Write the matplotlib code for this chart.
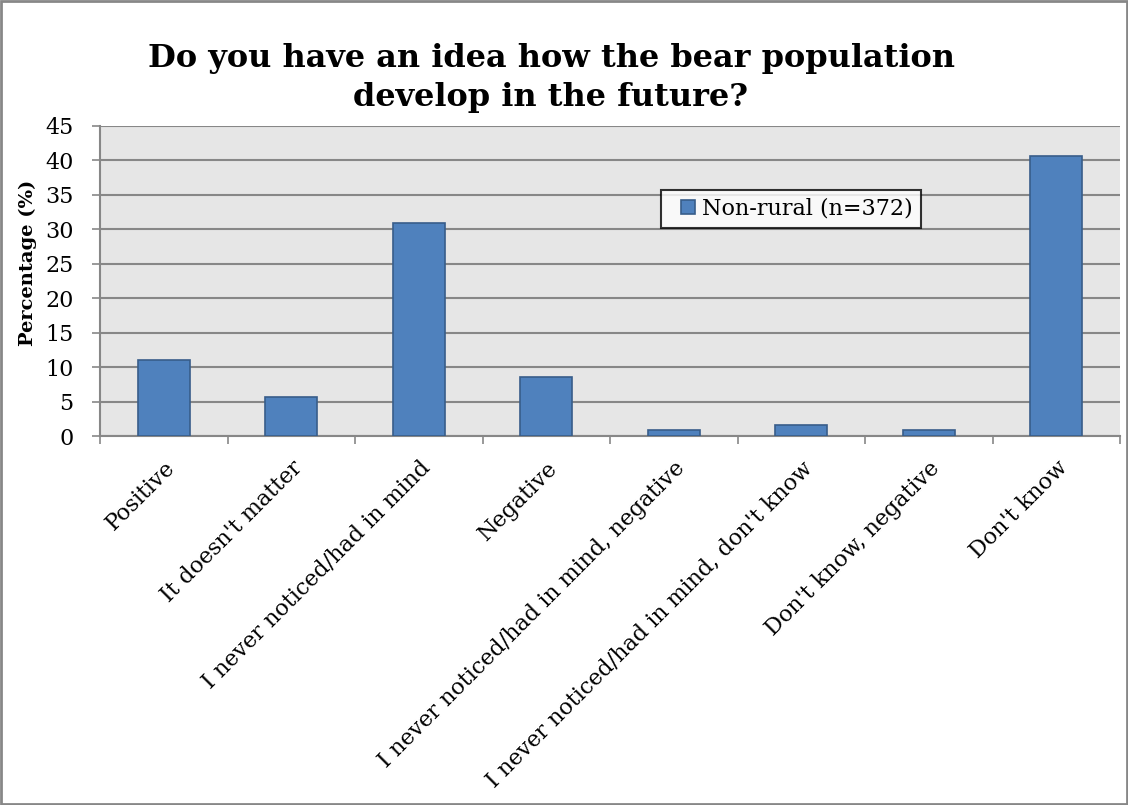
import numpy as np
import matplotlib.pyplot as plt
from matplotlib.patches import Rectangle
from matplotlib.legend_handler import HandlerPatch

# Datos de la encuesta (porcentajes, n=372)
categorias = ['Positive', "It doesn't matter", 'I never noticed/had in mind', 'Negative',
              'I never noticed/had in mind, negative', "I never noticed/had in mind, don't know",
              "Don't know, negative", "Don't know"]
porcentajes = [11.0, 5.6, 30.9, 8.6, 0.8, 1.6, 0.8, 40.6]
serie = 'Non-rural (n=372)'
yticks = np.arange(0, 50, 5)

plt.rcParams['font.family'] = ['DejaVu Serif']

fig = plt.figure(figsize=(11.28, 8.05), dpi=100)
ax = fig.add_axes([100/1128, 1 - 436/805, 1020/1128, 310/805])

x = np.arange(len(categorias))
barras = ax.bar(x, porcentajes, width=0.41, color='#4f81bd', edgecolor='#385d8a', linewidth=1.2,
                label=serie, zorder=3)

ax.set_facecolor('#e6e6e6')
ax.set_xlim(-0.5, len(categorias) - 0.5)
ax.set_ylim(0, 45)
ax.set_yticks(yticks)
ax.tick_params(axis='y', labelsize=16, length=6, color='#878787', width=1.2, pad=13)
ax.yaxis.grid(True, color='#878787', linewidth=1.5, zorder=0)

# marcas del eje x entre categorias
ax.set_xticks(np.arange(-0.5, len(categorias), 1.0))
ax.set_xticklabels([])
ax.tick_params(axis='x', length=6, color='#878787', width=1.2)
ax.set_xticks(x, minor=True)
ax.set_xticklabels(categorias, minor=True, rotation=45, ha='right', rotation_mode='anchor',
                   fontsize=16)
ax.tick_params(axis='x', which='minor', length=0, pad=15)

for lado in ['top', 'right']:
    ax.spines[lado].set_visible(False)
ax.spines['left'].set_color('#878787')
ax.spines['left'].set_linewidth(1.5)
ax.spines['bottom'].set_color('#878787')
ax.spines['bottom'].set_linewidth(1.5)

ax.set_ylabel('Percentage (%)', fontsize=14, fontweight='bold')
ax.yaxis.set_label_coords(-63/1020, (436 - 263)/310)
fig.text(551/1128, 1 - 78/805, 'Do you have an idea how the bear population\ndevelop in the future?',
         ha='center', va='center', fontsize=23, fontweight='bold', linespacing=1.3)


# cuadrito de la leyenda pegado al texto, con margen a la izquierda
def cuadro(legend, orig_handle, xdescent, ydescent, width, height, fontsize):
    return Rectangle((width - height - xdescent, -ydescent), height, height)


leg = ax.legend(handles=[barras[0]], labels=[serie],
                loc='upper left', bbox_to_anchor=((661 - 100)/1020, (436 - 190)/310),
                fontsize=16, frameon=True, fancybox=False, edgecolor='black',
                handlelength=1.2, handleheight=0.65, handletextpad=0.3, borderpad=0.35,
                borderaxespad=0, handler_map={barras[0]: HandlerPatch(patch_func=cuadro)})
leg.get_frame().set_linewidth(1.5)
leg.get_frame().set_facecolor('white')

fig.patches.append(Rectangle((0.001, 0.001), 0.998, 0.998, transform=fig.transFigure,
                             fill=False, edgecolor='#878787', linewidth=2))

fig.savefig('out.png', dpi=100)
